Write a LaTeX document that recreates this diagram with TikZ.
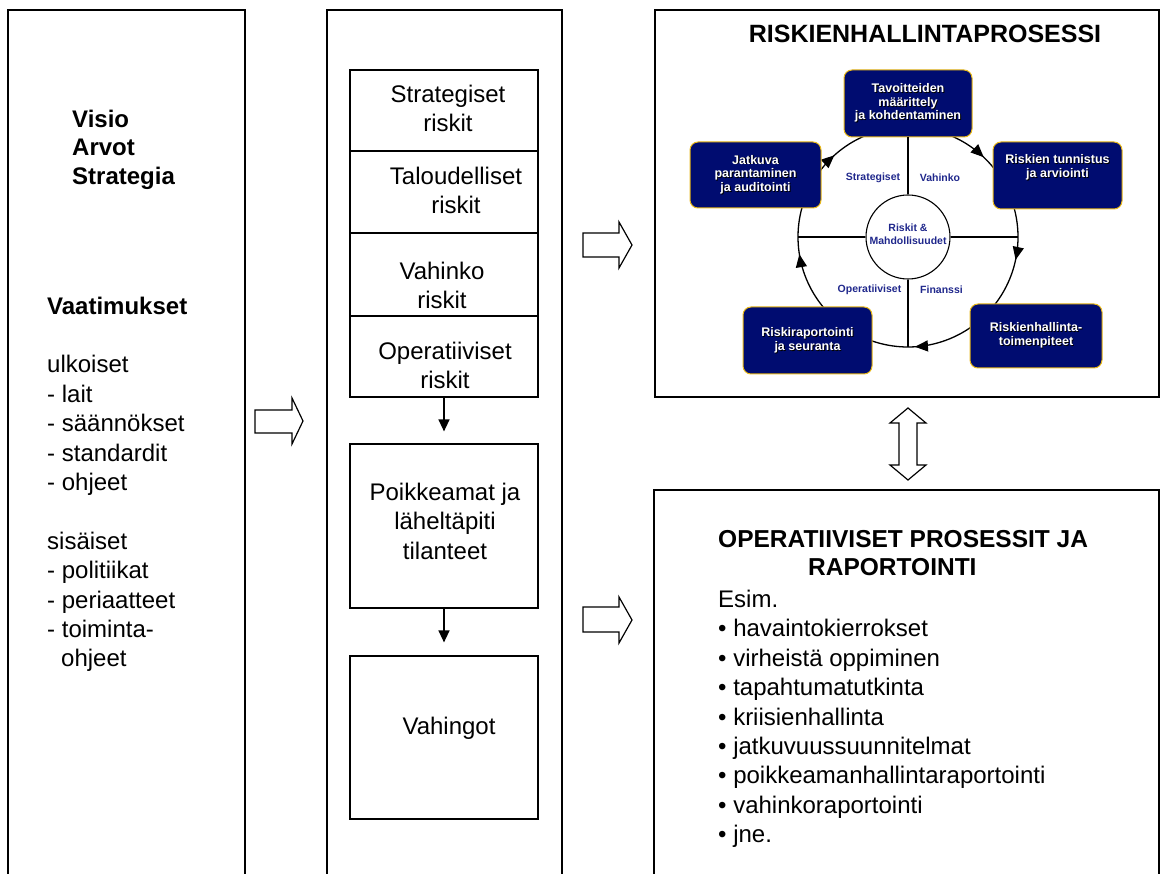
\documentclass[tikz,border=0pt]{standalone}
\usepackage{fontspec}
\setmainfont{Liberation Sans}
\usetikzlibrary{arrows.meta,decorations.markings}
\definecolor{procfill}{RGB}{0,12,112}
\definecolor{procedge}{RGB}{232,184,24}
\definecolor{labelblue}{RGB}{32,40,140}
% white lettering with a small dark drop shadow
\newcommand\shadowed[1]{\leavevmode\rlap{\hspace{0.9pt}\raisebox{-0.9pt}{\color{black}#1}}{\color{white}#1}}
\newcommand\bigfont{\fontsize{24}{29.4}\selectfont}

\begin{document}
\begin{tikzpicture}[x=1pt,y=-1pt,
  frame/.style={line width=1.2pt},
  riskbox/.style={draw,line width=1.2pt,minimum width=188pt,inner sep=0pt},
  bigtext/.style={inner sep=0pt,font=\bigfont,align=center},
  listtext/.style={inner sep=0pt,font=\bigfont,align=left,anchor=north west},
  procbox/.style={draw=procedge,fill=procfill,line width=1pt,rounded corners=8pt,
    minimum width=129pt,minimum height=67pt,inner sep=0pt,
    font=\fontsize{12.5}{13.7}\selectfont\bfseries,align=center},
  proctext/.style={font=\fontsize{12.5}{13.7}\selectfont\bfseries,align=center,inner sep=0pt},
  quad/.style={font=\fontsize{10.5}{13}\selectfont\bfseries,text=labelblue,align=center,inner sep=0pt},
  ring/.style={line width=1.3pt},
  flow/.style={line width=1.4pt,-{Triangle[length=12pt,width=11pt]}},
  hollow/.style={draw,line width=1.2pt,fill=white,line join=miter},
]
\useasboundingbox (0,0) rectangle (1160,874);

% ---- column frames ----
\draw[frame] (8,880) -- (8,10) -- (245,10) -- (245,880);
\draw[frame] (327,880) -- (327,10) -- (562,10) -- (562,880);
\draw[frame] (655,10) rectangle (1159,397);
\draw[frame] (654,880) -- (654,490) -- (1159,490) -- (1159,880);

% ---- left column ----
\node[listtext,font=\fontsize{24}{28.3}\selectfont\bfseries] (vision) at (72,110)
  {Visio\\Arvot\\Strategia};
\node[listtext] (reqs) at (47,296.5)
  {\textbf{Vaatimukset}\\[29.4pt]
   ulkoiset\\- lait\\- säännökset\\- standardit\\- ohjeet\\[29.4pt]
   sisäiset\\- politiikat\\- periaatteet\\- toiminta-\\\hspace*{14pt}ohjeet};

% ---- middle column: risk categories ----
\node[riskbox,minimum height=81pt] (strat) at (444,110.5) {};
\node[riskbox,minimum height=82pt] (fin) at (444,192) {};
\node[riskbox,minimum height=83pt] (dmg) at (444,274.5) {};
\node[riskbox,minimum height=81pt] (ops) at (444,356.5) {};
\node[riskbox,minimum height=164pt] (dev) at (444,526) {};
\node[riskbox,minimum height=163pt] (loss) at (444,737.5) {};

\node[bigtext,anchor=north] (strattext) at (448,85) {Strategiset\\riskit};
\node[bigtext,anchor=north] (fintext) at (456,167) {Taloudelliset\\riskit};
\node[bigtext,anchor=north] (dmgtext) at (442,262) {Vahinko\\riskit};
\node[bigtext,anchor=north] (opstext) at (445,342) {Operatiiviset\\riskit};
\node[bigtext,anchor=north] (devtext) at (445,483) {Poikkeamat ja\\läheltäpiti\\tilanteet};
\node[bigtext,anchor=north] (losstext) at (449,717) {Vahingot};

\draw[flow,shorten >=12pt] (ops.south) -- (dev.north);
\draw[flow,shorten >=13pt] (dev.south) -- (loss.north);

% ---- block arrows between columns ----
\draw[hollow] (255,410) -- (292,410) -- (292,398) -- (303,421) -- (292,444) -- (292,433) -- (255,433) -- cycle;
\draw[hollow] (583,233) -- (619,233) -- (619,222) -- (632,245) -- (619,268) -- (619,257) -- (583,257) -- cycle;
\draw[hollow] (583,607) -- (619,607) -- (619,597) -- (632,620) -- (619,643) -- (619,632) -- (583,632) -- cycle;
\draw[hollow] (908,408) -- (926,423) -- (917,423) -- (917,465) -- (926,465) -- (908,480)
  -- (890,465) -- (899,465) -- (899,423) -- (890,423) -- cycle;

% ---- risk management process ----
\node[inner sep=0pt,anchor=north,font=\fontsize{25}{28}\selectfont\bfseries] (title) at (925,25)
  {RISKIENHALLINTAPROSESSI};

\coordinate (hub) at (908,237);
\coordinate (ringW) at (798,237);
\coordinate (ringE) at (1018,237);
\coordinate (ringS) at (908,347);

\foreach \a/\b/\p in {-90/-22/0.64, -22/38/0.567, 38/134/0.504, 134/202/0.544, 202/270/0.382}
  \draw[ring,postaction={decorate},decoration={markings,
      mark=at position \p with {\arrow{Triangle[length=13pt,width=11pt]}}}]
    (hub) ++(\a:110) arc[start angle=\a,end angle=\b,radius=110];

\node[draw,circle,fill=white,minimum size=84pt,line width=1.1pt,inner sep=0pt] (core) at (hub) {};
\node[quad] (coretext) at (908,234) {Riskit \&\\Mahdollisuudet};

\node[procbox,minimum width=128pt] (goal) at (908,103.5)
  {\shadowed{Tavoitteiden}\\\shadowed{määrittely}\\\shadowed{ja kohdentaminen}};
\node[procbox,minimum width=131pt,minimum height=66pt] (improve) at (755.5,175)
  {\shadowed{Jatkuva}\\\shadowed{parantaminen}\\\shadowed{ja auditointi}};
\node[procbox] (assess) at (1057.5,175.5) {};
\node[proctext,anchor=north] (assesstext) at (1057.5,154.5)
  {\shadowed{Riskien tunnistus}\\\shadowed{ja arviointi}};
\node[procbox,minimum width=129pt] (report) at (807.5,340.5)
  {\shadowed{Riskiraportointi}\\\shadowed{ja seuranta}};
\node[procbox,minimum width=132pt,minimum height=64pt] (act) at (1036,336)
  {\shadowed{Riskienhallinta-}\\\shadowed{toimenpiteet}};

\draw[ring] (goal.south) -- (core.north);
\draw[ring] (core.south) -- (ringS);
\draw[ring] (ringW) -- (core.west);
\draw[ring] (core.east) -- (ringE);

\node[quad] (qstrat) at (873,178) {Strategiset};
\node[quad] (qdmg) at (940,178) {Vahinko};
\node[quad] (qops) at (869.5,290) {Operatiiviset};
\node[quad] (qfin) at (941.5,290) {Finanssi};

% ---- operational processes ----
\node[listtext,font=\fontsize{24.5}{28.3}\selectfont\bfseries] (optitle) at (718,530)
  {OPERATIIVISET PROSESSIT JA\\\hspace*{90pt}RAPORTOINTI};
\node[listtext] (oplist) at (718,590)
  {Esim.\\
   \textbullet\ havaintokierrokset\\
   \textbullet\ virheistä oppiminen\\
   \textbullet\ tapahtumatutkinta\\
   \textbullet\ kriisienhallinta\\
   \textbullet\ jatkuvuussuunnitelmat\\
   \textbullet\ poikkeamanhallintaraportointi\\
   \textbullet\ vahinkoraportointi\\
   \textbullet\ jne.};
\end{tikzpicture}
\end{document}
